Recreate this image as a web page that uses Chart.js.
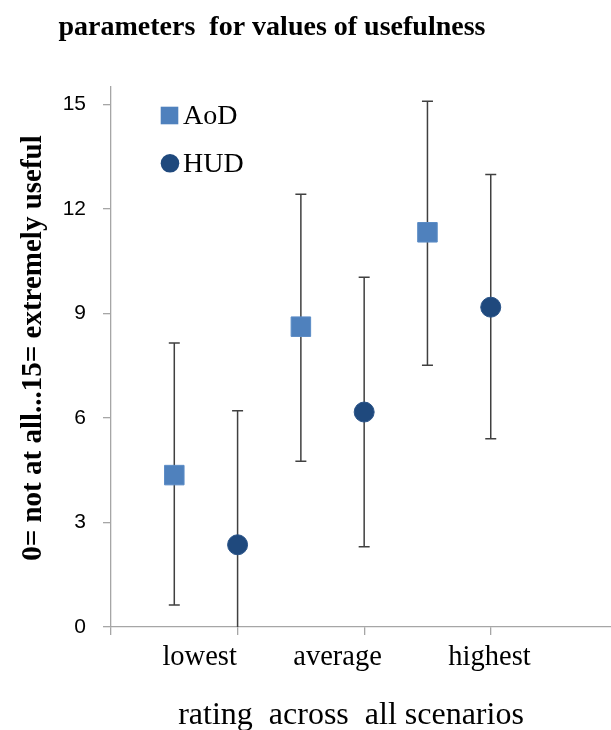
<!DOCTYPE html>
<html>
<head>
<meta charset="utf-8">
<title>parameters for values of usefulness</title>
<script src="https://cdn.jsdelivr.net/npm/chart.js@4.4.1/dist/chart.umd.min.js"></script>
<style>
    html, body { margin: 0; padding: 0; background: #fff; overflow: hidden; }
    #wrap { width: 611px; height: 730px; position: relative; }
</style>
</head>
<body>
<div id="wrap"><canvas id="chart"></canvas></div>
<script>
// values
const categories = ['lowest', 'average', 'highest'];
const categoryPos = [0.70, 1.79, 2.99];
const seriesNames = ['AoD', 'HUD'];

const aodX = [0.5, 1.5, 2.5];
const aodMean = [4.36, 8.62, 11.33];
const aodLow = [0.63, 4.76, 7.51];
const aodHigh = [8.15, 12.42, 15.09];

const hudX = [1, 2, 3];
const hudMean = [2.36, 6.17, 9.18];
const hudLow = [-1.49, 2.30, 5.40];
const hudHigh = [6.21, 10.04, 12.99];

const xTicks = [0, 1, 2, 3];
const yTicks = [0, 3, 6, 9, 12, 15];

const titleText = 'parameters  for values of usefulness';
const xTitle = 'rating  across  all scenarios';
const yTitle = '0= not at all...15= extremely useful';

const AXIS_GREY = '#a6a6a6';
const SERIF = '"Liberation Serif", "Times New Roman", serif';

// error bars drawn under the markers
const errorBars = {
    id: 'errorBars',
    beforeDatasetsDraw(chart) {
        const { ctx, chartArea, scales } = chart;
        ctx.save();
        ctx.beginPath();
        ctx.rect(chartArea.left, chartArea.top - 20, chartArea.right - chartArea.left, chartArea.bottom - chartArea.top + 20);
        ctx.clip();
        ctx.strokeStyle = '#404040';
        ctx.lineWidth = 1.5;
        chart.data.datasets.forEach(ds => {
            ds.data.forEach((pt, i) => {
                const x = scales.x.getPixelForValue(pt.x);
                const y1 = scales.y.getPixelForValue(ds.low[i]);
                const y2 = scales.y.getPixelForValue(ds.high[i]);
                ctx.beginPath();
                ctx.moveTo(x, y1); ctx.lineTo(x, y2);
                ctx.moveTo(x - 5.5, y1); ctx.lineTo(x + 5.5, y1);
                ctx.moveTo(x - 5.5, y2); ctx.lineTo(x + 5.5, y2);
                ctx.stroke();
            });
        });
        ctx.restore();
    }
};

// legend inside the plot, top left
const innerLegend = {
    id: 'innerLegend',
    afterDraw(chart) {
        const { ctx } = chart;
        const rows = [
            { cy: 115.5, base: 124 },
            { cy: 163.3, base: 171.7 }
        ];
        ctx.save();
        chart.data.datasets.forEach((ds, i) => {
            const r = rows[i];
            ctx.fillStyle = ds.backgroundColor;
            if (ds.pointStyle === 'rect') {
                ctx.fillRect(160.7, r.cy - 8.8, 17.6, 17.6);
            } else {
                ctx.beginPath();
                ctx.arc(170, r.cy, 9.3, 0, Math.PI * 2);
                ctx.fill();
            }
            ctx.fillStyle = '#000';
            ctx.font = '28px ' + SERIF;
            ctx.textAlign = 'left';
            ctx.textBaseline = 'alphabetic';
            ctx.fillText(ds.label, 183, r.base);
        });
        ctx.restore();
    }
};

// title, category names and axis titles
const texts = {
    id: 'texts',
    afterDraw(chart) {
        const { ctx, scales } = chart;
        ctx.save();
        ctx.fillStyle = '#000';
        ctx.textBaseline = 'alphabetic';
        ctx.textAlign = 'center';

        ctx.font = 'bold 28px ' + SERIF;
        ctx.fillText(titleText, 272, 35);

        ctx.font = '28.5px ' + SERIF;
        categories.forEach((c, i) => {
            ctx.fillText(c, scales.x.getPixelForValue(categoryPos[i]), 665);
        });

        ctx.font = '32px ' + SERIF;
        ctx.fillText(xTitle, 351, 724);

        ctx.translate(41, 348);
        ctx.rotate(-Math.PI / 2);
        ctx.font = 'bold 29px ' + SERIF;
        ctx.fillText(yTitle, 0, 0);
        ctx.restore();
    }
};

const ctx = document.getElementById('chart');
new Chart(ctx, {
    type: 'scatter',
    data: {
        datasets: [
            {
                label: seriesNames[0],
                data: aodX.map((x, i) => ({ x: x, y: aodMean[i] })),
                low: aodLow,
                high: aodHigh,
                pointStyle: 'rect',
                pointRadius: 13.8,
                backgroundColor: '#4f81bd',
                borderColor: '#5b8cc6',
                borderWidth: 1
            },
            {
                label: seriesNames[1],
                data: hudX.map((x, i) => ({ x: x, y: hudMean[i] })),
                low: hudLow,
                high: hudHigh,
                pointStyle: 'circle',
                pointRadius: 10,
                backgroundColor: '#1f497d',
                borderColor: '#2a5489',
                borderWidth: 1
            }
        ]
    },
    options: {
        responsive: true,
        maintainAspectRatio: false,
        animation: false,
        layout: { autoPadding: false, padding: { top: 87, left: 0, right: 0, bottom: 0 } },
        plugins: {
            legend: { display: false },
            title: { display: false },
            tooltip: { enabled: false }
        },
        scales: {
            x: {
                type: 'linear',
                min: 0,
                max: 3.95,
                afterBuildTicks: scale => { scale.ticks = xTicks.map(v => ({ value: v })); },
                afterFit: scale => { scale.height = 103; },
                ticks: { display: false },
                grid: { drawOnChartArea: false, tickLength: 8, color: AXIS_GREY, lineWidth: 1.3 },
                border: { color: AXIS_GREY, width: 1.3 }
            },
            y: {
                min: 0,
                max: 15.5,
                afterBuildTicks: scale => { scale.ticks = yTicks.map(v => ({ value: v })); },
                afterFit: scale => { scale.width = 111; },
                ticks: {
                    padding: 17,
                    color: '#000',
                    font: { family: '"Liberation Sans", Arial, sans-serif', size: 21 }
                },
                grid: { drawOnChartArea: false, tickLength: 8, color: AXIS_GREY, lineWidth: 1.3 },
                border: { color: AXIS_GREY, width: 1.3 }
            }
        }
    },
    plugins: [errorBars, innerLegend, texts]
});
</script>
</body>
</html>
